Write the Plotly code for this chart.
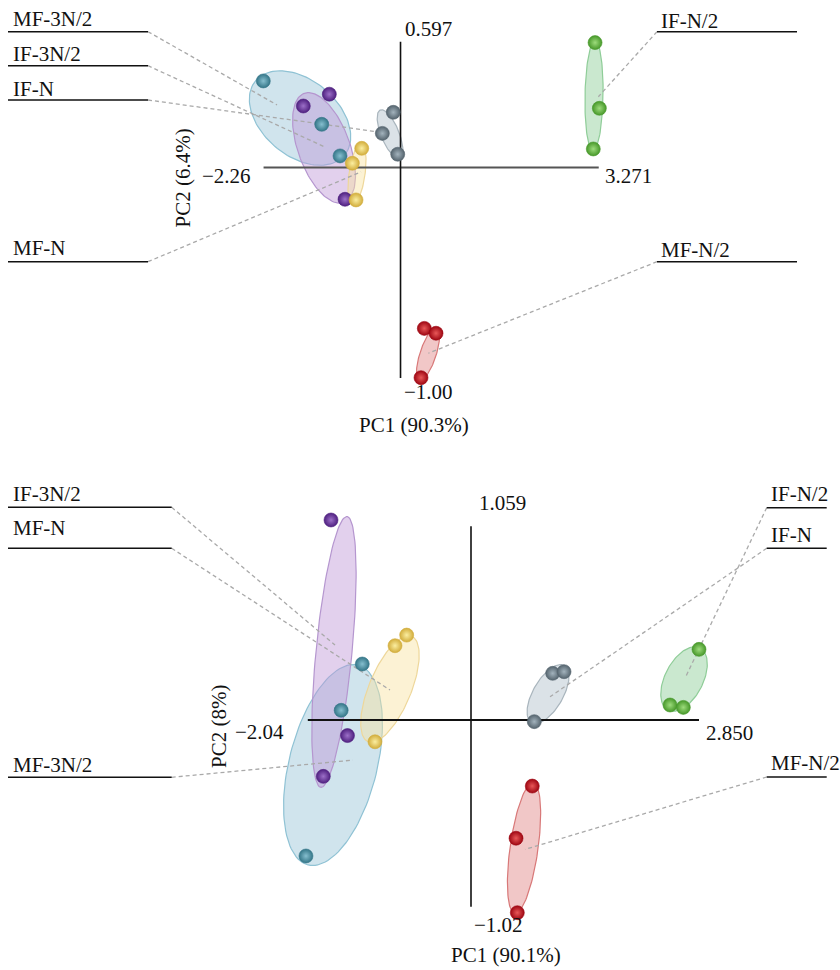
import numpy as np
import plotly.graph_objects as go

W, H = 840, 970
FONT = "Liberation Serif, Times New Roman, serif"

groups = ["MF-3N/2", "IF-3N/2", "MF-N", "IF-N", "IF-N/2", "MF-N/2"]
dot_colors = ["#347688", "#4f2080", "#d2ad3c", "#55646e", "#47982a", "#9e0612"]
glow_colors = ["#86bfcf", "#9c70c8", "#fbeea0", "#a3b3bd", "#9ddc7c", "#e85858"]
fill_colors = ["rgba(150,196,216,0.45)", "rgba(190,150,215,0.45)", "rgba(248,226,160,0.45)",
               "rgba(190,202,212,0.55)", "rgba(150,210,160,0.5)", "rgba(225,130,130,0.45)"]
edge_colors = ["#8fc2d4", "#b596cf", "#eed79a", "#a9b5bd", "#8fcd98", "#d87878"]

# ---------------- top panel data ----------------
top_pc1 = [[-2.264, -1.300, -0.998], [-1.175, -1.604, -0.916], [-0.640, -0.795, -0.734],
           [-0.119, -0.300, -0.046], [3.210, 3.281, 3.181], [0.393, 0.586, 0.338]]
top_pc2 = [[0.411, 0.205, 0.055], [0.348, 0.292, -0.151], [0.091, 0.020, -0.154],
           [0.262, 0.162, 0.063], [0.593, 0.281, 0.088], [-0.764, -0.787, -0.998]]
top_ell_cx = [-1.658, -1.262, -0.718, -0.173, 3.193, 0.454]
top_ell_cy = [0.235, 0.093, -0.031, 0.159, 0.340, -0.886]
top_ell_ux = [0.733, 0.327, -0.071, 0.161, -0.016, -0.143]
top_ell_uy = [-0.177, -0.259, -0.146, -0.114, -0.261, -0.126]
top_ell_vx = [-0.403, -0.403, -0.131, -0.138, -0.149, -0.126]
top_ell_vy = [-0.138, -0.042, 0.005, -0.016, 0.001, 0.012]
top_anchor_x = [-2.038, -1.246, -0.652, -0.371, 3.264, 0.459]
top_anchor_y = [0.297, 0.097, -0.021, 0.169, 0.336, -0.882]
top_xlim = [-2.26, 3.271]
top_ylim = [-1.00, 0.597]
top_xlim_text = ["\u22122.26", "3.271"]
top_ylim_text = ["\u22121.00", "0.597"]
top_xtitle = "PC1 (90.3%)"
top_ytitle = "PC2 (6.4%)"

# ---------------- bottom panel data ----------------
bot_pc1 = [[-1.359, -1.623, -2.063], [-1.750, -1.544, -1.846], [-0.804, -0.950, -1.200],
           [1.021, 1.163, 0.791], [2.850, 2.488, 2.654], [0.766, 0.563, 0.579]]
bot_pc2 = [[0.306, 0.053, -0.743], [1.093, -0.085, -0.308], [0.464, 0.406, -0.119],
           [0.255, 0.264, -0.009], [0.386, 0.082, 0.069], [-0.361, -0.646, -1.053]]
bot_ell_cx = [-1.725, -1.713, -1.013, 0.963, 2.663, 0.663]
bot_ell_cy = [-0.246, 0.372, 0.169, 0.142, 0.224, -0.700]
bot_ell_ux = [-0.311, -0.163, -0.273, -0.206, -0.199, -0.115]
bot_ell_uy = [-0.546, -0.740, -0.288, -0.156, -0.170, -0.357]
bot_ell_vx = [-0.534, -0.224, -0.243, -0.162, -0.212, -0.173]
bot_ell_vy = [0.058, 0.009, 0.044, 0.041, 0.047, 0.011]
bot_anchor_x = [-1.475, -1.700, -1.013, 0.988, 2.675, 0.675]
bot_anchor_y = [-0.219, 0.410, 0.164, 0.127, 0.228, -0.707]
bot_xlim = [-2.04, 2.850]
bot_ylim = [-1.02, 1.059]
bot_xlim_text = ["\u22122.04", "2.850"]
bot_ylim_text = ["\u22121.02", "1.059"]
bot_xtitle = "PC1 (90.1%)"
bot_ytitle = "PC2 (8%)"

# ---------------- layout geometry ----------------
panels = [
    dict(xa="x", ya="y", xr=[-6.609, 7.252], yr=[-1.5076, 0.7953], dom=[0.5, 1.0],
         pc1=top_pc1, pc2=top_pc2,
         ell=(top_ell_cx, top_ell_cy, top_ell_ux, top_ell_uy, top_ell_vx, top_ell_vy),
         anc=(top_anchor_x, top_anchor_y), xlim=top_xlim, ylim=top_ylim,
         xlt=top_xlim_text, ylt=top_ylim_text, xt=top_xtitle, yt=top_ytitle,
         hcol="#555555",
         # (group, side, text y px, line y px)
         labels=[(0, "L", 19, 31.7), (1, "L", 54, 65.7), (3, "L", 88.5, 100),
                 (2, "L", 248, 261.7), (4, "R", 20.5, 31.7), (5, "R", 250, 261.7)],
         left_line=[8, 148], right_line=[657, 797],
         tick_shift=dict(xl=(-11, -9), xr=(4, -9), yt=(2.5, 12.4), yb=(1.5, -13.7)),
         xtitle_px=(414, 425), ytitle_px=(182.5, 178)),
    dict(xa="x2", ya="y2", xr=[-5.8875, 4.6125], yr=[-1.3661, 1.2842], dom=[0.0, 0.5],
         pc1=bot_pc1, pc2=bot_pc2,
         ell=(bot_ell_cx, bot_ell_cy, bot_ell_ux, bot_ell_uy, bot_ell_vx, bot_ell_vy),
         anc=(bot_anchor_x, bot_anchor_y), xlim=bot_xlim, ylim=bot_ylim,
         xlt=bot_xlim_text, ylt=bot_ylim_text, xt=bot_xtitle, yt=bot_ytitle,
         hcol="#111111",
         labels=[(1, "L", 494.5, 507.3), (2, "L", 528, 548.3), (0, "L", 764.5, 777.3),
                 (4, "R", 494.5, 507.7), (3, "R", 535, 548.3), (5, "R", 763, 777)],
         left_line=[8, 171.7], right_line=[766.7, 826.7],
         tick_shift=dict(xl=(-21.5, -11.7), xr=(5, -13), yt=(6, 23), yb=(1, -18)),
         xtitle_px=(506, 955), ytitle_px=(219, 727)),
]


def px_to_data(p, px, py):
    fx = px / W
    fy = 1 - py / H
    X = p["xr"][0] + fx * (p["xr"][1] - p["xr"][0])
    Y = p["yr"][0] + (fy - p["dom"][0]) / (p["dom"][1] - p["dom"][0]) * (p["yr"][1] - p["yr"][0])
    return X, Y


fig = go.Figure()
annotations = []
shapes = []
t = np.linspace(0, 2 * np.pi, 120)

for p in panels:
    xa, ya = p["xa"], p["ya"]
    cx, cy, ux, uy, vx, vy = p["ell"]
    # ellipses
    for g in range(len(groups)):
        ex = cx[g] + ux[g] * np.cos(t) + vx[g] * np.sin(t)
        ey = cy[g] + uy[g] * np.cos(t) + vy[g] * np.sin(t)
        fig.add_trace(go.Scatter(x=ex, y=ey, xaxis=xa, yaxis=ya, mode="lines", fill="toself",
                                 fillcolor=fill_colors[g], line=dict(color=edge_colors[g], width=1.2),
                                 hoverinfo="skip", showlegend=False))
    # leader lines
    for (g, side, ty, ly) in p["labels"]:
        sx = p["left_line"][1] if side == "L" else p["right_line"][0]
        X0, Y0 = px_to_data(p, sx, ly)
        fig.add_trace(go.Scatter(x=[X0, p["anc"][0][g]], y=[Y0, p["anc"][1][g]], xaxis=xa, yaxis=ya,
                                 mode="lines", line=dict(color="#a9a9a9", width=1.3, dash="4px,3px"),
                                 hoverinfo="skip", showlegend=False))
    # axes lines
    fig.add_trace(go.Scatter(x=p["xlim"], y=[0, 0], xaxis=xa, yaxis=ya, mode="lines",
                             line=dict(color=p["hcol"], width=1.8), hoverinfo="skip", showlegend=False))
    fig.add_trace(go.Scatter(x=[0, 0], y=p["ylim"], xaxis=xa, yaxis=ya, mode="lines",
                             line=dict(color="#111111", width=1.6), hoverinfo="skip", showlegend=False))
    # points
    for g in range(len(groups)):
        fig.add_trace(go.Scatter(x=p["pc1"][g], y=p["pc2"][g], xaxis=xa, yaxis=ya, mode="markers",
                                 marker=dict(size=14, color=dot_colors[g],
                                             gradient=dict(type="radial", color=glow_colors[g]),
                                             line=dict(width=0.6, color=dot_colors[g])),
                                 name=groups[g], showlegend=False, cliponaxis=False))
    # tick labels at the axis ends
    ts = p["tick_shift"]
    annotations.append(dict(x=p["xlim"][0], y=0, xref=xa, yref=ya, text=p["xlt"][0], showarrow=False,
                            xanchor="right", yanchor="middle", xshift=ts["xl"][0], yshift=ts["xl"][1]))
    annotations.append(dict(x=p["xlim"][1], y=0, xref=xa, yref=ya, text=p["xlt"][1], showarrow=False,
                            xanchor="left", yanchor="middle", xshift=ts["xr"][0], yshift=ts["xr"][1]))
    annotations.append(dict(x=0, y=p["ylim"][1], xref=xa, yref=ya, text=p["ylt"][1], showarrow=False,
                            xanchor="left", yanchor="middle", xshift=ts["yt"][0], yshift=ts["yt"][1]))
    annotations.append(dict(x=0, y=p["ylim"][0], xref=xa, yref=ya, text=p["ylt"][0], showarrow=False,
                            xanchor="left", yanchor="middle", xshift=ts["yb"][0], yshift=ts["yb"][1]))
    # axis titles
    annotations.append(dict(x=p["xtitle_px"][0] / W, y=1 - p["xtitle_px"][1] / H, xref="paper", yref="paper",
                            text=p["xt"], showarrow=False, xanchor="center", yanchor="middle"))
    annotations.append(dict(x=p["ytitle_px"][0] / W, y=1 - p["ytitle_px"][1] / H, xref="paper", yref="paper",
                            text=p["yt"], showarrow=False, xanchor="center", yanchor="middle", textangle=-90))
    # group labels with underline
    for (g, side, ty, ly) in p["labels"]:
        if side == "L":
            x0, x1 = p["left_line"]
            tx = 11
        else:
            x0, x1 = p["right_line"]
            tx = x0 + 2
        shapes.append(dict(type="line", xref="paper", yref="paper", x0=x0 / W, x1=x1 / W,
                           y0=1 - ly / H, y1=1 - ly / H, line=dict(color="#111111", width=1.5)))
        annotations.append(dict(x=tx / W, y=1 - ty / H, xref="paper", yref="paper", text=groups[g],
                                showarrow=False, xanchor="left", yanchor="middle"))

axis_common = dict(showgrid=False, zeroline=False, showticklabels=False, showline=False, ticks="",
                   fixedrange=True)
fig.update_layout(
    width=W, height=H, autosize=False,
    margin=dict(l=0, r=0, t=0, b=0, pad=0),
    paper_bgcolor="white", plot_bgcolor="white",
    font=dict(family=FONT, size=21, color="#111111"),
    xaxis=dict(domain=[0, 1], range=panels[0]["xr"], anchor="y", **axis_common),
    yaxis=dict(domain=panels[0]["dom"], range=panels[0]["yr"], anchor="x", **axis_common),
    xaxis2=dict(domain=[0, 1], range=panels[1]["xr"], anchor="y2", **axis_common),
    yaxis2=dict(domain=panels[1]["dom"], range=panels[1]["yr"], anchor="x2", **axis_common),
    annotations=annotations, shapes=shapes, showlegend=False,
)

fig.write_html("out.html", config={"displayModeBar": False},
               post_script="document.body.style.margin='0';document.body.style.overflow='hidden';")
